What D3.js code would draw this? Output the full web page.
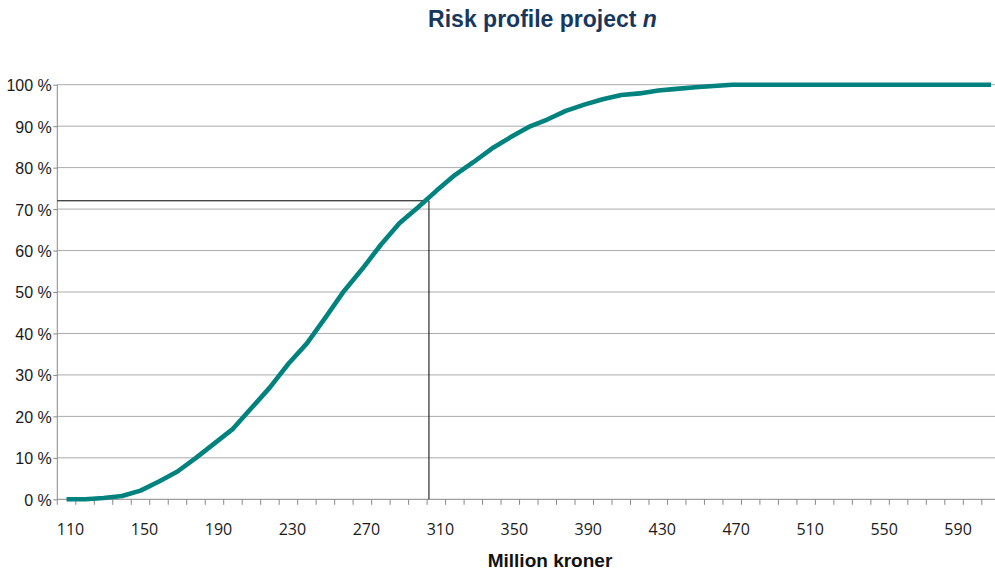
<!DOCTYPE html>
<html>
<head>
<meta charset="utf-8">
<script src="https://cdn.jsdelivr.net/npm/d3@7"></script>
<style>
  html, body { margin: 0; padding: 0; background: #ffffff; }
  svg { display: block; }
</style>
</head>
<body>
<svg id="chart" width="995" height="574"></svg>
<script>
// ---- data ----
const categories = [110,120,130,140,150,160,170,180,190,200,210,220,230,240,250,260,270,280,290,300,
  310,320,330,340,350,360,370,380,390,400,410,420,430,440,450,460,470,480,490,500,510,520,530,540,550,560,570,580,590,600,610];
const cumulativePct = [0,0,0.3,0.8,2.1,4.3,6.7,10.0,13.5,17.0,22.0,27.0,32.7,37.6,43.8,50.2,55.6,61.4,66.6,70.4,
  74.4,78.2,81.3,84.6,87.3,89.8,91.6,93.7,95.2,96.5,97.5,97.9,98.6,99.0,99.4,99.7,100,100,100,100,100,100,100,100,100,100,100,100,100,100,100];
const xTickLabels = [110,150,190,230,270,310,350,390,430,470,510,550,590];
const yTickValues = [0,10,20,30,40,50,60,70,80,90,100];
const markerX = 306;   // Million kroner
const markerY = 72;    // percent

// ---- layout ----
const svg = d3.select("#chart");
const plotLeft = 57.3, bandW = 18.49, plotTop = 84.7, plotBottom = 499.3;
const plotRight = plotLeft + categories.length * bandW;

const x = d3.scaleBand().domain(categories).range([plotLeft, plotRight]).padding(0);
const xLin = d3.scaleLinear()
  .domain([categories[0], categories[categories.length - 1]])
  .range([x(categories[0]) + bandW / 2, x(categories[categories.length - 1]) + bandW / 2]);
const y = d3.scaleLinear().domain([0, 100]).range([plotBottom, plotTop]);

// gridlines
svg.append("g").selectAll("line").data(yTickValues.filter(v => v > 0)).join("line")
  .attr("x1", plotLeft).attr("x2", plotRight)
  .attr("y1", d => y(d)).attr("y2", d => y(d))
  .attr("stroke", "#ababab").attr("stroke-width", 1);

// y axis
const yAxis = d3.axisLeft(y).tickValues(yTickValues).tickSize(4).tickPadding(5)
  .tickFormat(d => d + " %");
const gy = svg.append("g").attr("transform", `translate(${plotLeft},0)`).call(yAxis);
gy.select(".domain").attr("stroke", "#878787").attr("d", `M0,${plotTop}V${plotBottom}`);
gy.selectAll(".tick line").attr("stroke", "#878787");
gy.selectAll(".tick text")
  .attr("font-family", "'Liberation Sans', Arial, sans-serif")
  .attr("font-size", 16).attr("fill", "#1a1a1a").attr("x", -5.5).attr("dy", "0.37em");

// x axis line and boundary ticks
const boundaries = categories.map(c => x(c)).concat([plotRight]);
svg.append("line").attr("x1", plotLeft).attr("x2", plotRight).attr("y1", plotBottom).attr("y2", plotBottom)
  .attr("stroke", "#878787").attr("stroke-width", 1);
svg.append("g").selectAll("line").data(boundaries).join("line")
  .attr("x1", d => d).attr("x2", d => d).attr("y1", plotBottom).attr("y2", plotBottom + 5.5)
  .attr("stroke", "#878787").attr("stroke-width", 1);

// x tick labels via axis
const xAxis = d3.axisBottom(x).tickValues(xTickLabels).tickSize(0).tickPadding(0);
const gx = svg.append("g").attr("transform", `translate(4,${plotBottom})`).call(xAxis);
gx.select(".domain").remove();
gx.selectAll(".tick text")
  .attr("font-family", "'Open Sans', sans-serif").attr("font-size", 16)
  .attr("fill", "#1a1a1a").attr("dy", null).attr("y", 35.7);

// reference lines
svg.append("path")
  .attr("d", `M${plotLeft},${y(markerY)}H${xLin(markerX)}V${plotBottom}`)
  .attr("fill", "none").attr("stroke", "#000").attr("stroke-width", 1);

// curve
const line = d3.line().x((d, i) => x(categories[i]) + bandW / 2).y(d => y(d));
svg.append("path").datum(cumulativePct)
  .attr("d", line)
  .attr("fill", "none").attr("stroke", "#00827e").attr("stroke-width", 4.6)
  .attr("stroke-linejoin", "round").attr("stroke-linecap", "butt");

// title
const title = svg.append("text").attr("x", 542.5).attr("y", 27).attr("text-anchor", "middle")
  .attr("font-family", "'Liberation Sans', Arial, sans-serif").attr("font-weight", "bold")
  .attr("font-size", 23).attr("fill", "#17375e");
title.append("tspan").text("Risk profile project ");
title.append("tspan").attr("font-style", "italic").text("n");

// x axis title
svg.append("text").attr("x", 550).attr("y", 567).attr("text-anchor", "middle")
  .attr("font-family", "'Liberation Sans', Arial, sans-serif").attr("font-weight", "bold")
  .attr("font-size", 19).attr("fill", "#111").text("Million kroner");
</script>
</body>
</html>
